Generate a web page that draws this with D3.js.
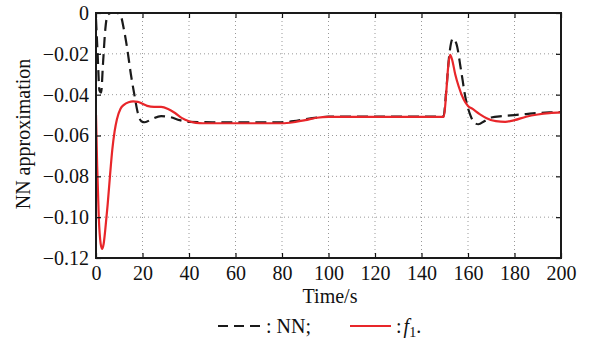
<!DOCTYPE html>
<html><head><meta charset="utf-8">
<script src="https://cdn.jsdelivr.net/npm/d3@7"></script>
<style>body{margin:0;background:#fff}svg{display:block}text{font-family:"Liberation Serif","Times New Roman",serif;fill:#111}</style>
</head><body><svg id="c" width="589" height="340"></svg>
<script>
const xTicks = [0,20,40,60,80,100,120,140,160,180,200];
const yTicks = [0,-0.02,-0.04,-0.06,-0.08,-0.10,-0.12];
const yTickLabels = ["0","\u22120.02","\u22120.04","\u22120.06","\u22120.08","\u22120.10","\u22120.12"];
const nnT = [0,0.7,1.5,2.2,3,4,5,6.5,9,10.5,12,13.5,15,16.5,18,19.5,21,24,28,32,36,40,50,60,70,80,85,90,95,100,110,120,130,140,149.5,150.5,152,153.5,155,157,159,161,163,164.5,167,170,175,180,185,190,195,200];
const nnV = [-0.003,-0.02,-0.038,-0.039,-0.025,-0.008,-0.001,0,0,-0.001,-0.008,-0.018,-0.030,-0.040,-0.049,-0.053,-0.0535,-0.052,-0.0505,-0.051,-0.0525,-0.0533,-0.0535,-0.0535,-0.0535,-0.0535,-0.053,-0.052,-0.0512,-0.0508,-0.0507,-0.0507,-0.0507,-0.0507,-0.0507,-0.040,-0.020,-0.0125,-0.015,-0.028,-0.042,-0.050,-0.054,-0.0545,-0.053,-0.0512,-0.0505,-0.050,-0.0495,-0.049,-0.0487,-0.0485];
const f1T = [0,0.5,1.2,2,2.6,3.3,4,5,6,7,8,9,10.5,12,14,16,18,20,22,25,28,31,34,37,40,43,46,60,70,80,85,90,95,100,110,120,130,140,149.6,150.7,151.5,152.3,153.2,154.5,156,158,160,162,165,168,172,176,180,185,190,195,200];
const f1V = [-0.050,-0.075,-0.100,-0.113,-0.1155,-0.113,-0.106,-0.094,-0.080,-0.067,-0.058,-0.052,-0.047,-0.0450,-0.0437,-0.0433,-0.0435,-0.0445,-0.0455,-0.046,-0.046,-0.047,-0.049,-0.0515,-0.053,-0.0538,-0.054,-0.054,-0.054,-0.054,-0.0535,-0.0525,-0.0513,-0.0509,-0.0509,-0.0509,-0.0509,-0.0509,-0.0509,-0.038,-0.026,-0.0205,-0.023,-0.030,-0.036,-0.042,-0.0455,-0.047,-0.0495,-0.0515,-0.053,-0.0533,-0.0525,-0.0508,-0.0497,-0.049,-0.0487];

const svg = d3.select("#c");
const L=96,R=561,T=13,B=258;
const FS=20;
const x = d3.scaleLinear().domain([0,200]).range([L,R]);
const y = d3.scaleLinear().domain([-0.12,0]).range([B,T]);

// grid
const g = svg.append("g");
g.selectAll("line.vx").data(xTicks.slice(1,-1)).enter().append("line")
 .attr("x1",d=>x(d)).attr("x2",d=>x(d)).attr("y1",T).attr("y2",B)
 .attr("stroke","#999").attr("stroke-width",1).attr("stroke-dasharray","1,3");
g.selectAll("line.hy").data(yTicks.slice(1,-1)).enter().append("line")
 .attr("y1",d=>y(d)).attr("y2",d=>y(d)).attr("x1",L).attr("x2",R)
 .attr("stroke","#999").attr("stroke-width",1).attr("stroke-dasharray","1,3");

// lines
const line = d3.line().x(d=>x(d[0])).y(d=>y(d[1])).curve(d3.curveMonotoneX);
svg.append("clipPath").attr("id","cp").append("rect").attr("x",L).attr("y",T-2).attr("width",R-L).attr("height",B-T+2);
svg.append("path").attr("clip-path","url(#cp)").datum(nnT.map((t,i)=>[t,nnV[i]])).attr("d",line)
 .attr("fill","none").attr("stroke","#1a1a1a").attr("stroke-width",2.2).attr("stroke-dasharray","11,6");
svg.append("path").attr("clip-path","url(#cp)").datum(f1T.map((t,i)=>[t,f1V[i]])).attr("d",line)
 .attr("fill","none").attr("stroke","#e8262a").attr("stroke-width",2.2);

// axes
const ax = svg.append("g").attr("transform",`translate(0,${B})`).call(d3.axisBottom(x).tickValues(xTicks).tickSize(-5).tickPadding(8).tickFormat(d3.format("d")));
const ay = svg.append("g").attr("transform",`translate(${L},0)`).call(d3.axisLeft(y).tickValues(yTicks).tickSize(-5).tickPadding(7).tickFormat((d,i)=>yTickLabels[i]));
const axT = svg.append("g").attr("transform",`translate(0,${T})`).call(d3.axisTop(x).tickValues(xTicks).tickSize(-5).tickFormat(""));
const ayR = svg.append("g").attr("transform",`translate(${R},0)`).call(d3.axisRight(y).tickValues(yTicks).tickSize(-5).tickFormat(""));
[ax,ay,axT,ayR].forEach(a=>{a.select(".domain").remove();a.selectAll(".tick line").attr("stroke","#111").attr("stroke-width",1.2);});
[ax,ay].forEach(a=>a.selectAll("text").attr("font-size",FS).attr("fill","#111").style("font-family","Liberation Serif"));
svg.append("rect").attr("x",L).attr("y",T).attr("width",R-L).attr("height",B-T).attr("fill","none").attr("stroke","#1a1a1a").attr("stroke-width",2);

// labels
svg.append("text").attr("x",330).attr("y",303).attr("text-anchor","middle").attr("font-size",FS).text("Time/s");
svg.append("text").attr("transform","translate(30,134) rotate(-90)").attr("text-anchor","middle").attr("font-size",FS).text("NN approximation");

// legend
svg.append("line").attr("x1",218).attr("x2",261).attr("y1",326).attr("y2",326).attr("stroke","#1a1a1a").attr("stroke-width",2.2).attr("stroke-dasharray","10,6");
svg.append("text").attr("x",266).attr("y",333).attr("font-size",FS).text(": NN;");
svg.append("line").attr("x1",350).attr("x2",391).attr("y1",326).attr("y2",326).attr("stroke","#e8262a").attr("stroke-width",2.2);
const lt = svg.append("text").attr("x",396).attr("y",333).attr("font-size",FS);
lt.append("tspan").text(":");
lt.append("tspan").attr("font-style","italic").attr("dx",2).text("f");
lt.append("tspan").attr("font-size",14).attr("dy",4).text("1");
lt.append("tspan").attr("dy",-4).text(".");
</script></body></html>
